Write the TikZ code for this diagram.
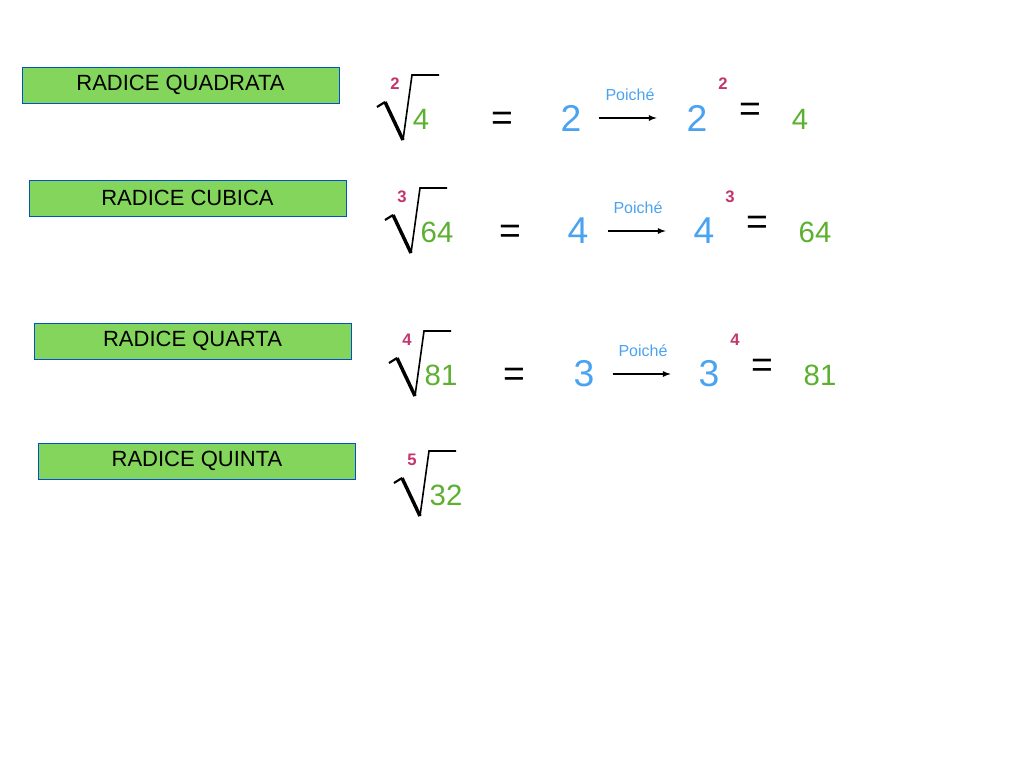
\documentclass[tikz,border=0pt]{standalone}
\usepackage{fontspec}
\setmainfont{Liberation Sans}
\begin{document}
\begin{tikzpicture}[x=0.75pt,y=-0.75pt,
 lbl/.style={draw=blue!60!cyan!80!black,fill=grnbox,line width=0.6pt,minimum width=317*0.75pt,minimum height=36*0.75pt,inner sep=0pt,font=\fontsize{16.5}{18}\selectfont},
 big/.style={text=bluet,font=\fontsize{28}{30}\selectfont,inner sep=0pt},
 res/.style={text=greent,font=\fontsize{22}{24}\selectfont,inner sep=0pt},
 idx/.style={text=magt,font=\bfseries\fontsize{12.5}{14}\selectfont,inner sep=0pt},
 eq/.style={font=\fontsize{28}{30}\selectfont,inner sep=0pt},
 po/.style={text=bluet,font=\fontsize{12}{14}\selectfont,inner sep=0pt},
 arr/.style={-latex,line width=1pt}]
\definecolor{grnbox}{HTML}{83D65B}
\definecolor{greent}{HTML}{5BB030}
\definecolor{bluet}{HTML}{4AA3F0}
\definecolor{magt}{HTML}{C2356E}
\useasboundingbox (0,0) rectangle (1024,768);
\newcommand{\myroot}[3]{%
 \begin{scope}[shift={(#1,#2)}]
 \draw[line width=1.6pt,line join=miter] (377,107)--(385,102);
 \draw[line width=2.6pt] (385,102)--(403,140);
 \draw[line width=1.2pt] (403,140)--(412,75)--(439,75);
 \end{scope}}
% row 1
\node[lbl] (b1) at (180.5,85) {RADICE QUADRATA};
\myroot{0}{0}{}
\node[idx] (i1) at (395,84) {2};
\node[res] (r1) at (421,119) {4};
\node[eq] (e1) at (502,121) {=};
\node[big] (a1) at (571,118) {2};
\node[big] (p1) at (697,118) {2};
\draw[arr] (a1.east)++(17,0) coordinate (s1) -- ++(58,0) coordinate (t1);
\node[po] (q1) at (630,95) {Poiché};
\node[idx] (x1) at (723,84) {2};
\node[eq] (f1) at (750,112) {=};
\node[res] (g1) at (800,119) {4};
% row 2
\node[lbl] (b2) at (187.5,198) {RADICE CUBICA};
\myroot{8}{113}{}
\node[idx] (i2) at (402,197) {3};
\node[res] (r2) at (437,232) {64};
\node[eq] (e2) at (510,234) {=};
\node[big] (a2) at (578,231) {4};
\node[big] (p2) at (704,231) {4};
\draw[arr] (a2.east)++(19,0) coordinate (s2) -- ++(58,0) coordinate (t2);
\node[po] (q2) at (638,208) {Poiché};
\node[idx] (x2) at (730,197) {3};
\node[eq] (f2) at (757,225) {=};
\node[res] (g2) at (815,232) {64};
% row 3
\node[lbl] (b3) at (192.5,341) {RADICE QUARTA};
\myroot{12}{256}{}
\node[idx] (i3) at (407,340) {4};
\node[res] (r3) at (441,375) {81};
\node[eq] (e3) at (514,377) {=};
\node[big] (a3) at (584,374) {3};
\node[big] (p3) at (709,374) {3};
\draw[arr] (a3.east)++(18,0) coordinate (s3) -- ++(58,0) coordinate (t3);
\node[po] (q3) at (643,351) {Poiché};
\node[idx] (x3) at (735,340) {4};
\node[eq] (f3) at (762,368) {=};
\node[res] (g3) at (820,375) {81};
% row 4
\node[lbl] (b4) at (197,461) {RADICE QUINTA};
\myroot{17}{376}{}
\node[idx] (i4) at (412,460) {5};
\node[res] (r4) at (446,495) {32};
\end{tikzpicture}
\end{document}
